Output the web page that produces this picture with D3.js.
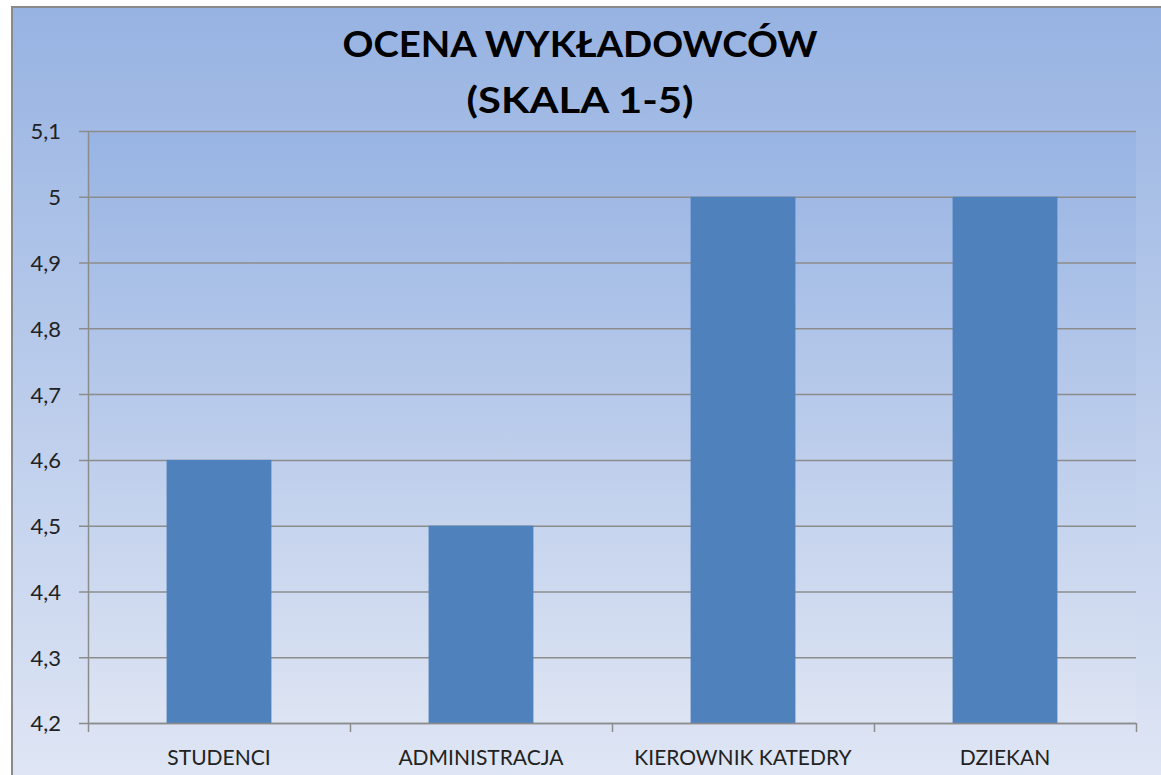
<!DOCTYPE html>
<html><head><meta charset="utf-8">
<script src="https://cdn.jsdelivr.net/npm/d3@7"></script>
<style>body{margin:0;background:#fff;}svg{display:block;}</style>
</head><body>
<script>
const categories = ["STUDENCI", "ADMINISTRACJA", "KIEROWNIK KATEDRY", "DZIEKAN"];
const values = [4.6, 4.5, 5.0, 5.0];
const yTicks = [4.2, 4.3, 4.4, 4.5, 4.6, 4.7, 4.8, 4.9, 5.0, 5.1];
const titleLines = ["OCENA WYKŁADOWCÓW", "(SKALA 1-5)"];

const W = 1161, H = 775;
const svg = d3.select("body").append("svg").attr("width", W).attr("height", H);
const defs = svg.append("defs");
const g1 = defs.append("linearGradient").attr("id","bg").attr("x1",0).attr("y1",0).attr("x2",0).attr("y2",1);
g1.append("stop").attr("offset","0%").attr("stop-color","#97b3e2");
g1.append("stop").attr("offset","100%").attr("stop-color","#e1e7f5");
const g2 = defs.append("linearGradient").attr("id","pa").attr("x1",0).attr("y1",0).attr("x2",0).attr("y2",1);
g2.append("stop").attr("offset","0%").attr("stop-color","#98b4e3");
g2.append("stop").attr("offset","100%").attr("stop-color","#dde4f3");

svg.append("rect").attr("x",0).attr("y",0).attr("width",W).attr("height",H).attr("fill","#fff");
svg.append("rect").attr("x",12).attr("y",7).attr("width",W+20).attr("height",H+20).attr("fill","url(#bg)")
  .attr("stroke","#8a8a8a").attr("stroke-width",2);

const m = {left:88, right:1136, top:131, bottom:723};
const x = d3.scaleBand().domain(categories).range([m.left, m.right]).paddingInner(0.6).paddingOuter(0.3);
const xb = d3.scaleBand().domain(categories).range([m.left, m.right]);
const y = d3.scaleLinear().domain([4.2, 5.1]).range([m.bottom, m.top]);

svg.append("rect").attr("x",m.left).attr("y",m.top).attr("width",m.right-m.left).attr("height",m.bottom-m.top).attr("fill","url(#pa)");

const font = "Lato, 'Open Sans', sans-serif";
// gridlines
svg.append("g").selectAll("line").data(yTicks).join("line")
  .attr("x1",m.left-9).attr("x2",m.right).attr("y1",d=>y(d)+0.5).attr("y2",d=>y(d)+0.5)
  .attr("stroke","#8c8c8c").attr("stroke-width",1.5);

// bars
svg.append("g").selectAll("rect").data(values).join("rect")
  .attr("x",(d,i)=>x(categories[i])).attr("width",x.bandwidth())
  .attr("y",d=>y(d)).attr("height",d=>y(4.2)-y(d)).attr("fill","#4f81bd");

// y axis
const yAxis = d3.axisLeft(y).tickValues(yTicks).tickSize(0).tickPadding(27)
  .tickFormat(d => d3.format("")(+d.toFixed(1)).replace(".", ","));
const ya = svg.append("g").attr("transform",`translate(${m.left},0)`).call(yAxis);
ya.select(".domain").remove();
ya.selectAll("text").attr("font-family",font).attr("font-size",22).attr("fill","#222").attr("dy","0.36em");
svg.append("line").attr("x1",m.left+0.5).attr("x2",m.left+0.5).attr("y1",m.top).attr("y2",m.bottom)
  .attr("stroke","#8c8c8c").attr("stroke-width",1.5);

// x axis
svg.append("line").attr("x1",m.left).attr("x2",m.right).attr("y1",m.bottom+0.5).attr("y2",m.bottom+0.5)
  .attr("stroke","#8c8c8c").attr("stroke-width",1.5);
const bounds = categories.map(c=>xb(c)).concat([m.right]);
svg.append("g").selectAll("line").data(bounds).join("line")
  .attr("x1",d=>d+0.5).attr("x2",d=>d+0.5).attr("y1",m.bottom).attr("y2",m.bottom+9)
  .attr("stroke","#8c8c8c").attr("stroke-width",1.5);
svg.append("g").selectAll("text").data(categories).join("text")
  .attr("x",d=>xb(d)+xb.bandwidth()/2).attr("y",765).attr("text-anchor","middle")
  .attr("font-family",font).attr("font-size",21).attr("fill","#222").text(d=>d);

// title
const tw = [475, 227];
svg.append("g").selectAll("text").data(titleLines).join("text")
  .attr("x",580).attr("y",(d,i)=>57+i*56).attr("text-anchor","middle")
  .attr("font-family",font).attr("font-weight","bold").attr("font-size",37).attr("fill","#000")
  .attr("textLength",(d,i)=>tw[i]).attr("lengthAdjust","spacingAndGlyphs").text(d=>d);
</script>
</body></html>
